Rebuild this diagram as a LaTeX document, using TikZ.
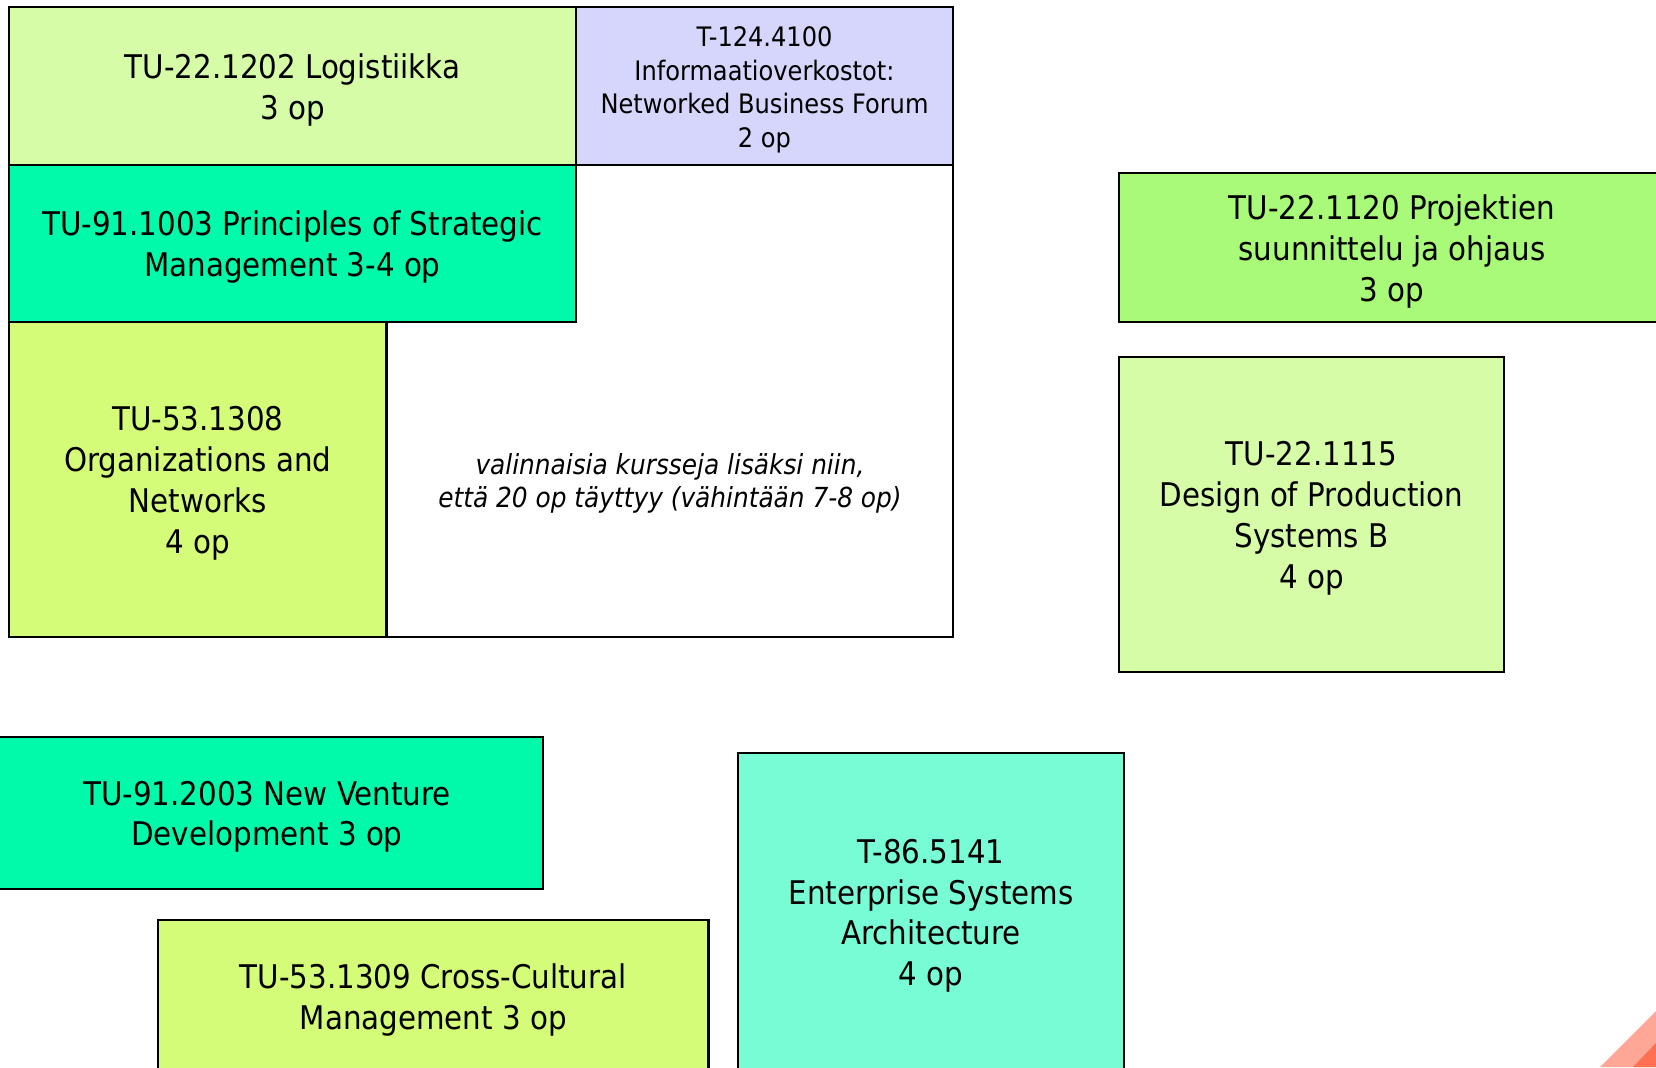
\documentclass[tikz,border=0pt]{standalone}
\usepackage{fontspec}
\setmainfont{DejaVu Sans Condensed}
\definecolor{cLight}{HTML}{D6FCA8}
\definecolor{cLav}{HTML}{D6D6FC}
\definecolor{cSpring}{HTML}{00FAAA}
\definecolor{cYel}{HTML}{D4FC78}
\definecolor{cProj}{HTML}{A8FA78}
\definecolor{cAqua}{HTML}{78FCD6}
\definecolor{cSalL}{HTML}{FFA796}
\definecolor{cSalD}{HTML}{FF7052}
\tikzset{
  cell/.style={draw=black, line width=1.3pt, inner sep=0pt},
  txt/.style={inner sep=0pt, align=center, yshift=-1.9pt,
    font=\fontsize{16.3pt}{20.4pt}\selectfont},
  small/.style={font=\fontsize{13.4pt}{16.8pt}\selectfont},
  note/.style={inner sep=0pt, align=center, yshift=-1.5pt, font=\fontsize{13.8pt}{16.5pt}\selectfont\itshape}
}
\begin{document}
\begin{tikzpicture}[x=0.5pt,y=-0.5pt]
\useasboundingbox (0,0) rectangle (1656,1067);
\clip (0,0) rectangle (1656,1067);
% group frame
\node[cell, fill=white, minimum width=472pt, minimum height=315pt] (frame) at (481,322) {};
\node[cell, fill=cLight, minimum width=283.5pt, minimum height=79pt] (logi) at (292.5,86) {};
\node[txt] (logi-t) at (logi.center) {TU-22.1202 Logistiikka\\3 op};
\node[cell, fill=cLav, minimum width=188.5pt, minimum height=79pt] (t124) at (764.5,86) {};
\node[txt, small] (t124-t) at (t124.center) {T-124.4100\\Informaatioverkostot:\\Networked Business Forum\\2 op};
\node[cell, fill=cSpring, minimum width=283.5pt, minimum height=78.5pt] (psm) at (292.5,243.5) {};
\node[txt] (psm-t) at (psm.center) {TU-91.1003 Principles of Strategic\\Management 3-4 op};
\node[cell, fill=cYel, minimum width=188.85pt, minimum height=157.5pt] (org) at (197.8,479.5) {};
\node[txt] (org-t) at (org.center) {TU-53.1308\\Organizations and\\Networks\\4 op};
\node[note] (note) at (670,480.5)
  {valinnaisia kursseja lisäksi niin,\\että 20 op täyttyy (vähintään 7-8 op)};
% right column
\node[cell, fill=cProj, minimum width=273pt, minimum height=74.5pt] (proj) at (1392,247.5) {};
\node[txt] (proj-t) at (proj.center) {TU-22.1120 Projektien\\suunnittelu ja ohjaus\\3 op};
\node[cell, fill=cLight, minimum width=192.5pt, minimum height=157.5pt] (dps) at (1311.5,514.5) {};
\node[txt] (dps-t) at (dps.center) {TU-22.1115\\Design of Production\\Systems B\\4 op};
% bottom
\node[cell, fill=cSpring, minimum width=276pt, minimum height=76pt] (nvd) at (267,813) {};
\node[txt] (nvd-t) at (nvd.center) {TU-91.2003 New Venture\\Development 3 op};
\node[cell, fill=cYel, minimum width=275.3pt, minimum height=76pt] (ccm) at (433.3,996) {};
\node[txt] (ccm-t) at (ccm.center) {TU-53.1309 Cross-Cultural\\Management 3 op};
\node[cell, fill=cAqua, minimum width=193pt, minimum height=159pt] (esa) at (931,912) {};
\node[txt] (esa-t) at (esa.center) {T-86.5141\\Enterprise Systems\\Architecture\\4 op};
% corner decoration
\fill[cSalL] (1600,1067) -- (1656,1011) -- (1656,1067) -- cycle;
\fill[cSalD] (1633,1067) -- (1656,1043) -- (1656,1067) -- cycle;
\end{tikzpicture}
\end{document}
